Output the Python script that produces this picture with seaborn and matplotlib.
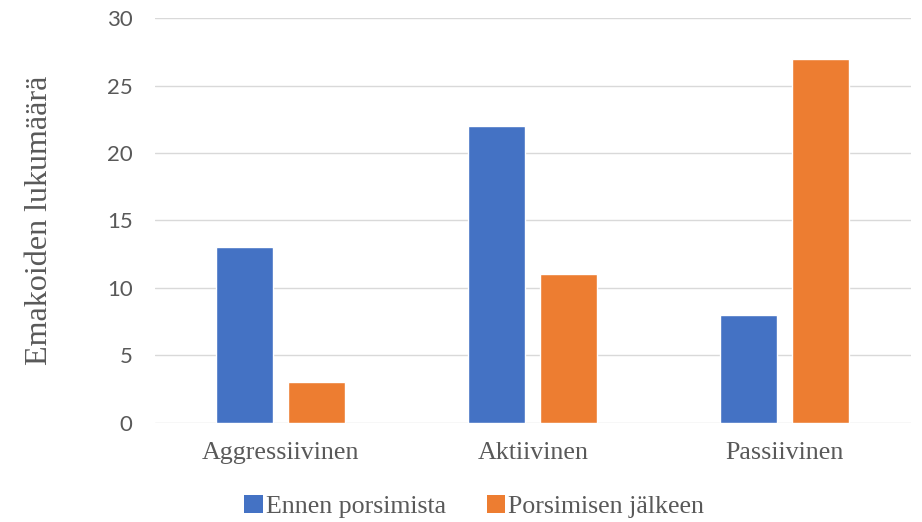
import matplotlib
matplotlib.use("Agg")
import matplotlib.pyplot as plt
import seaborn as sns
import pandas as pd
from matplotlib.patches import Patch

# Sow behaviour counts before and after farrowing
categories = ["Aggressiivinen", "Aktiivinen", "Passiivinen"]
series_names = ["Ennen porsimista", "Porsimisen jälkeen"]
before = [13, 22, 8]
after = [3, 11, 27]
y_ticks = [0, 5, 10, 15, 20, 25, 30]
y_label = "Emakoiden lukumäärä"

colors = ["#4472C4", "#ED7D31"]
text_gray = "#595959"

df = pd.DataFrame({
    "kategoria": categories * 2,
    "sarja": [series_names[0]] * 3 + [series_names[1]] * 3,
    "arvo": before + after,
})

sns.set_theme(style="white")
plt.rcParams["font.family"] = ["Liberation Serif", "DejaVu Serif"]

fig = plt.figure(figsize=(9.22, 5.22), dpi=100)
ax = fig.add_axes([0.168, 0.1897, 0.820, 0.7758])

sns.barplot(data=df, x="kategoria", y="arvo", hue="sarja", order=categories,
            hue_order=series_names, palette=colors, width=0.571, gap=0.208,
            saturation=1, errorbar=None, legend=False, ax=ax, zorder=3)

ax.set_xlim(-0.5, 2.5)
ax.set_ylim(0, 30)
ax.set_yticks(y_ticks)
ax.yaxis.grid(True, color="#d9d9d9", linewidth=1.0, zorder=0)
ax.xaxis.grid(False)
ax.set_axisbelow(True)
for s in ax.spines.values():
    s.set_visible(False)

ax.tick_params(axis="both", length=0)
ax.tick_params(axis="y", pad=16)
ax.tick_params(axis="x", pad=14)
for lab in ax.get_yticklabels():
    lab.set_fontfamily(["Lato", "DejaVu Sans"])
    lab.set_fontsize(16)
    lab.set_color(text_gray)
for lab in ax.get_xticklabels():
    lab.set_fontsize(18.7)
    lab.set_color(text_gray)

ax.set_xlabel("")
ax.set_ylabel(y_label, fontsize=23.1, color=text_gray, labelpad=38)

handles = [Patch(facecolor=c, edgecolor="none") for c in colors]
fig.legend(handles, series_names, loc="center", bbox_to_anchor=(0.5145, 0.029),
           ncol=2, frameon=False, fontsize=18.6, labelcolor=text_gray,
           handlelength=0.7, handleheight=0.7, handletextpad=0.12,
           columnspacing=1.6)

fig.savefig("out.png", dpi=100)
